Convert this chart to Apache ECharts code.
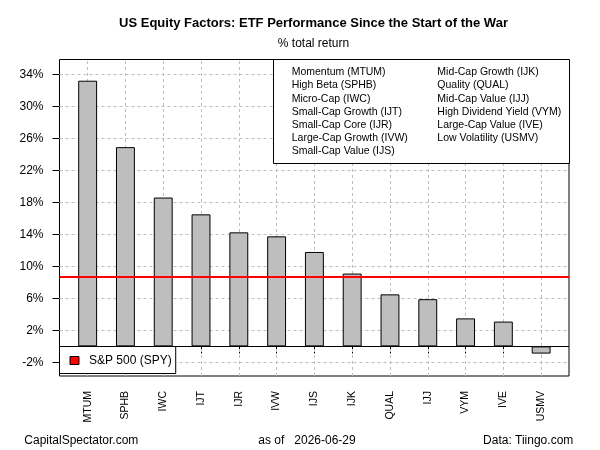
<!DOCTYPE html>
<html lang="en" style="height: 100%">
<head>
  <meta charset="utf-8">
</head>
<body style="height: 100%; margin: 0">
  <div id="container" style="width: 600px; height: 450px"></div>

  <script type="text/javascript" src="https://cdn.jsdelivr.net/npm/echarts@6/dist/echarts.min.js"></script>

  <script type="text/javascript">
    // tickers, in bar order
    var tickers = ['MTUM', 'SPHB', 'IWC', 'IJT', 'IJR', 'IVW', 'IJS', 'IJK', 'QUAL', 'IJJ', 'VYM', 'IVE', 'USMV'];
    // % total return since start of the war
    var returns = [33.2, 24.9, 18.6, 16.5, 14.25, 13.75, 11.8, 9.1, 6.5, 5.9, 3.5, 3.1, -0.9];
    var spyReturn = 8.7;
    var yTicks = [-2, 2, 6, 10, 14, 18, 22, 26, 30, 34];
    var factorNames = [
      'Momentum (MTUM)', 'High Beta (SPHB)', 'Micro-Cap (IWC)', 'Small-Cap Growth (IJT)',
      'Small-Cap Core (IJR)', 'Large-Cap Growth (IVW)', 'Small-Cap Value (IJS)',
      'Mid-Cap Growth (IJK)', 'Quality (QUAL)', 'Mid-Cap Value (IJJ)',
      'High Dividend Yield (VYM)', 'Large-Cap Value (IVE)', 'Low Volatility (USMV)'
    ];

    var FONT = '"Liberation Sans", Arial, sans-serif';
    var GRIDCOL = '#bebebe';
    var yMin = -3.7, yMax = 35.85;

    var dom = document.getElementById('container');
    var myChart = echarts.init(dom, null, { renderer: 'canvas' });

    // factor legend box (two columns)
    var legendEls = [{
      type: 'rect',
      shape: { x: 273.5, y: 59.5, width: 296, height: 104 },
      style: { fill: '#fff', stroke: '#000', lineWidth: 1 },
      z: 10
    }];
    factorNames.forEach(function (name, i) {
      var col = i < 7 ? 0 : 1;
      var row = col === 0 ? i : i - 7;
      legendEls.push({
        type: 'text',
        z: 11,
        style: {
          text: name,
          x: col === 0 ? 291.7 : 437.3,
          y: 72.3 + row * 13.2,
          fill: '#000',
          font: '10.5px ' + FONT,
          verticalAlign: 'middle'
        }
      });
    });

    var option = {
      animation: false,
      title: [
        {
          text: 'US Equity Factors: ETF Performance Since the Start of the War',
          left: 313.5, top: 17, textAlign: 'center', padding: 0,
          textStyle: { fontSize: 13, fontWeight: 'bold', fontFamily: FONT, color: '#000' }
        },
        {
          text: '% total return',
          left: 313.5, top: 38, textAlign: 'center', padding: 0,
          textStyle: { fontSize: 12, fontWeight: 'normal', fontFamily: FONT, color: '#000' }
        },
        {
          text: 'CapitalSpectator.com',
          left: 24.3, top: 434.5, padding: 0,
          textStyle: { fontSize: 12, fontWeight: 'normal', fontFamily: FONT, color: '#000' }
        },
        {
          text: 'as of   2026-06-29',
          left: 307, top: 434.5, textAlign: 'center', padding: 0,
          textStyle: { fontSize: 12, fontWeight: 'normal', fontFamily: FONT, color: '#000' }
        },
        {
          text: 'Data: Tiingo.com',
          right: 26.7, top: 434.5, padding: 0,
          textStyle: { fontSize: 12, fontWeight: 'normal', fontFamily: FONT, color: '#000' }
        }
      ],
      legend: {
        data: [{
          name: 'S&P 500 (SPY)',
          icon: 'rect',
          itemStyle: { color: '#ff0000', borderColor: '#000', borderWidth: 1 }
        }],
        selectedMode: false,
        left: 59.5, top: 346.5,
        padding: [8, 4, 7, 10],
        itemWidth: 9, itemHeight: 8,
        backgroundColor: '#fff',
        borderColor: '#000', borderWidth: 1, borderRadius: 0,
        textStyle: { fontSize: 12, fontFamily: FONT, color: '#000', padding: [0, 0, 0, 5] },
        z: 12
      },
      grid: [
        // bars
        { left: 68.75, right: 39.95, top: 59.5, bottom: 74 },
        // plot box
        { left: 59.5, right: 31, top: 59.5, bottom: 74, show: true, borderColor: '#000', borderWidth: 1, backgroundColor: 'transparent' }
      ],
      xAxis: [
        {
          type: 'category', gridIndex: 0, data: tickers,
          axisLine: { show: false },
          axisTick: { show: true, alignWithLabel: true, length: 7, lineStyle: { color: '#000' } },
          axisLabel: { rotate: 90, margin: 15, fontSize: 10.5, fontFamily: FONT, color: '#000' },
          splitLine: { show: false }
        },
        { type: 'value', gridIndex: 1, min: 0, max: 27, show: false }
      ],
      yAxis: [
        { type: 'value', gridIndex: 0, min: yMin, max: yMax, show: false },
        {
          type: 'value', gridIndex: 1, min: yMin, max: yMax,
          axisLine: { show: false },
          axisTick: { show: true, length: 7, customValues: yTicks, lineStyle: { color: '#000' } },
          axisLabel: { customValues: yTicks, formatter: '{value}%', margin: 16, fontSize: 12, fontFamily: FONT, color: '#000' },
          splitLine: { show: false }
        }
      ],
      series: [
        {
          name: 'gridlines', type: 'line', xAxisIndex: 1, yAxisIndex: 1, data: [],
          silent: true, z: 1,
          markLine: {
            silent: true, symbol: 'none', label: { show: false }, z: 1, animation: false,
            lineStyle: { color: GRIDCOL, type: [3, 3], width: 1 },
            data: yTicks.map(function (v) { return { yAxis: v }; }).concat([
              { yAxis: 0, lineStyle: { color: '#000', type: 'solid', width: 1 } }
            ])
          }
        },
        {
          name: 'returns', type: 'bar', xAxisIndex: 0, yAxisIndex: 0,
          data: returns, barWidth: '50%', z: 3,
          itemStyle: { color: '#bebebe', borderColor: '#000', borderWidth: 1 },
          markLine: {
            silent: true, symbol: 'none', label: { show: false }, z: 1, animation: false,
            lineStyle: { color: GRIDCOL, type: [3, 3], width: 1 },
            data: tickers.map(function (t) { return { xAxis: t }; })
          }
        },
        {
          name: 'S&P 500 (SPY)', type: 'line', xAxisIndex: 1, yAxisIndex: 1, data: [],
          color: '#ff0000',
          markLine: {
            silent: true, symbol: 'none', label: { show: false }, z: 5, animation: false,
            lineStyle: { color: '#ff0000', type: 'solid', width: 2 },
            data: [{ yAxis: spyReturn }]
          }
        }
      ],
      graphic: legendEls
    };

    myChart.setOption(option);
    window.addEventListener('resize', myChart.resize);
  </script>
</body>
</html>
